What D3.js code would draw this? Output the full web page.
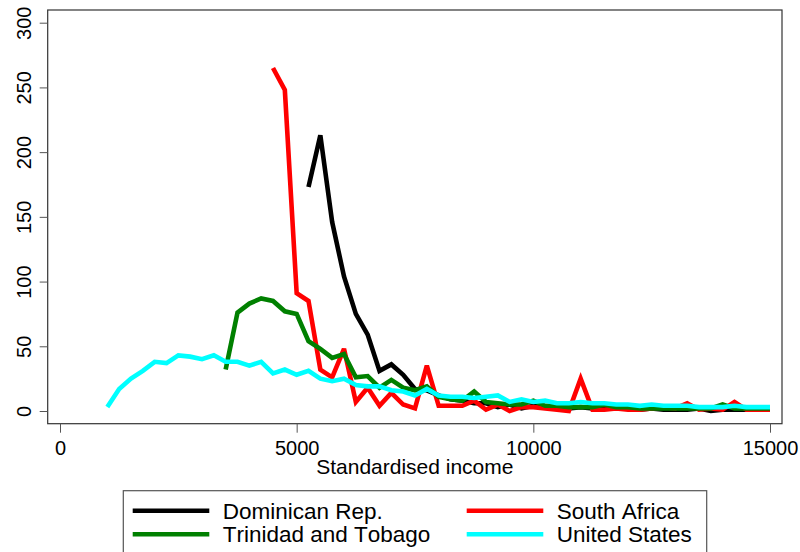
<!DOCTYPE html>
<html>
<head>
<meta charset="utf-8">
<script src="https://cdn.jsdelivr.net/npm/d3@7"></script>
<style>
  body { margin: 0; background: #fff; }
  text { font-family: "Liberation Sans", Arial, sans-serif; font-kerning: none; }
</style>
</head>
<body>
<div id="chart"></div>
<script>
// income bins are 250 wide, each series starts at its own lowest bin
const binWidth = 250
const xTicks = [0, 5000, 10000, 15000]
const yTicks = [0, 50, 100, 150, 200, 250, 300]

const domRepStart = 5250
const domRep = [173, 213, 146, 104, 75, 59, 31, 36, 28, 17, 16, 12, 9, 8, 6, 6, 3, 5, 2, 4,
    3, 2, 2, 3, 2, 2, 2, 2, 1, 2, 1, 1, 1, 2, 0, 1, 1, 1, 1, 1]

const southAfricaStart = 4500
const southAfrica = [265, 248, 91, 85, 32, 26, 48, 7, 18, 4, 14, 5, 2, 35, 4, 4, 4, 8, 1, 5,
    0, 3, 3, 2, 1, 0, 25, 1, 1, 2, 1, 1, 2, 3, 2, 6, 1, 2, 1, 7, 1, 1, 1]

const trinidadStart = 3500
const trinidad = [32, 76, 83, 87, 85, 77, 75, 54, 48, 41, 44, 26, 27, 18, 24, 18, 16, 19, 11, 9,
    8, 15, 7, 6, 5, 5, 8, 4, 4, 3, 3, 3, 5, 3, 3, 2, 2, 2, 2, 2, 2, 2, 5, 2, 2, 2, 2]

const usStart = 1000
const us = [3, 17, 25, 31, 38, 37, 43, 42, 40, 43, 38, 38, 35, 38, 29, 32, 28, 31, 25, 23,
    25, 20, 19, 19, 16, 15, 12, 17, 12, 11, 11, 10, 11, 12, 7, 9, 7, 8, 6, 6,
    7, 6, 6, 5, 5, 4, 5, 4, 4, 4, 3, 3, 3, 4, 3, 3, 3]

const seriesNames = ["Dominican Rep.", "South Africa", "Trinidad and Tobago", "United States"]
const seriesColors = ["#000000", "#ff0000", "#008000", "#00ffff"]

const series = [
    {name: seriesNames[0], start: domRepStart, values: domRep},
    {name: seriesNames[1], start: southAfricaStart, values: southAfrica},
    {name: seriesNames[2], start: trinidadStart, values: trinidad},
    {name: seriesNames[3], start: usStart, values: us}
].map((s, i) => ({
    name: s.name,
    color: seriesColors[i],
    points: s.values.map((v, j) => [s.start + j * binWidth, v])
}))

const svgWidth = 800
const svgHeight = 552

// plot frame
const frame = {left: 47.7, top: 10, right: 782, bottom: 423.7}

let svg = d3.select('#chart')
    .append('svg')
    .attr('width', svgWidth)
    .attr('height', svgHeight)

let xScale = d3.scaleLinear()
    .domain([0, 15000])
    .range([60, 770])

let yScale = d3.scaleLinear()
    .domain([0, 300])
    .range([411, 22.7])

let lineGroup = svg.append("g")

let frameGroup = svg.append("g")

let xAxisGroup = svg.append("g")
    .attr("transform", `translate(0,${frame.bottom})`)

let yAxisGroup = svg.append("g")
    .attr("transform", `translate(${frame.left},0)`)

let legendGroup = svg.append("g")

let line = d3.line()
    .x(d => xScale(d[0]))
    .y(d => yScale(d[1]))

lineGroup.selectAll("path")
    .data(series)
    .join("path")
    .attr("d", d => line(d.points))
    .attr("fill", "none")
    .attr("stroke", d => d.color)
    .attr("stroke-width", 4.6)
    .attr("stroke-linejoin", "miter")
    .attr("stroke-miterlimit", 3)

frameGroup.append("rect")
    .attr("x", frame.left)
    .attr("y", frame.top)
    .attr("width", frame.right - frame.left)
    .attr("height", frame.bottom - frame.top)
    .attr("fill", "none")
    .attr("stroke", "#333")
    .attr("stroke-width", 1.2)

xAxisGroup.call(
    d3.axisBottom(xScale)
        .tickValues(xTicks)
        .tickSize(9)
        .tickPadding(8)
        .tickFormat(d3.format("d"))
)
xAxisGroup.select(".domain").remove()
xAxisGroup.selectAll(".tick line").attr("stroke", "#555")
xAxisGroup.selectAll(".tick text")
    .attr("font-size", 20)
    .attr("fill", "#000")
    .attr("font-family", "Liberation Sans, Arial, sans-serif")

yAxisGroup.call(
    d3.axisLeft(yScale)
        .tickValues(yTicks)
        .tickSize(8)
        .tickFormat(d3.format("d"))
)
yAxisGroup.select(".domain").remove()
yAxisGroup.selectAll(".tick line").attr("stroke", "#555")
yAxisGroup.selectAll(".tick text")
    .attr("font-size", 20)
    .attr("fill", "#000")
    .attr("font-family", "Liberation Sans, Arial, sans-serif")
    .attr("x", null)
    .attr("dy", null)
    .attr("text-anchor", "middle")
    .attr("transform", "translate(-16.5,0) rotate(-90)")

svg.append("text")
    .text("Standardised income")
    .attr("x", (frame.left + frame.right) / 2)
    .attr("y", 474)
    .attr("text-anchor", "middle")
    .attr("font-size", 21)
    .attr("fill", "#000")

// legend, two columns
legendGroup.append("rect")
    .attr("x", 123.3)
    .attr("y", 490.7)
    .attr("width", 706.7 - 123.3)
    .attr("height", 80)
    .attr("fill", "#fff")
    .attr("stroke", "#555")
    .attr("stroke-width", 1.2)

const legendCol = d => d3.scaleOrdinal().domain([0, 1]).range([132.7, 466.7])(seriesNames.indexOf(d.name) % 2)
const legendRow = d => d3.scaleOrdinal().domain([0, 1]).range([510.7, 534.3])(Math.floor(seriesNames.indexOf(d.name) / 2))

legendGroup.selectAll("line")
    .data(series)
    .join("line")
    .attr("x1", d => legendCol(d))
    .attr("x2", d => legendCol(d) + 76.6)
    .attr("y1", d => legendRow(d))
    .attr("y2", d => legendRow(d))
    .attr("stroke", d => d.color)
    .attr("stroke-width", 4.6)

legendGroup.selectAll("text")
    .data(series)
    .join("text")
    .attr("x", d => legendCol(d) + 90)
    .attr("y", d => legendRow(d) + 8)
    .attr("font-size", 22.5)
    .attr("fill", "#000")
    .text(d => d.name)
</script>
</body>
</html>
